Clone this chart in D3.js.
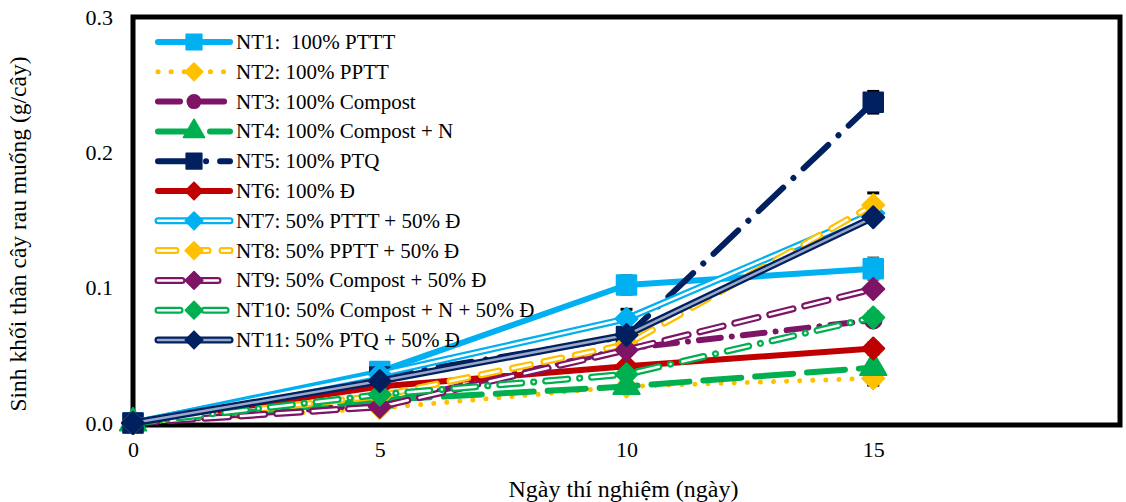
<!DOCTYPE html>
<html>
<head>
<meta charset="utf-8">
<script src="https://cdn.jsdelivr.net/npm/d3@7"></script>
<style>
body { margin: 0; background: #fff; }
text { font-family: "Liberation Serif", "Times New Roman", serif; fill: #000; }
</style>
</head>
<body>
<div id="chart"></div>
<script>
// days
var days = [0, 5, 10, 15];
var xTicks = [0, 5, 10, 15];
var yTicks = [0.0, 0.1, 0.2, 0.3];

var names = [
  "NT1:  100% PTTT",
  "NT2: 100% PPTT",
  "NT3: 100% Compost",
  "NT4: 100% Compost + N",
  "NT5: 100% PTQ",
  "NT6: 100% Đ",
  "NT7: 50% PTTT + 50% Đ",
  "NT8: 50% PPTT + 50% Đ",
  "NT9: 50% Compost + 50% Đ",
  "NT10: 50% Compost + N + 50% Đ",
  "NT11: 50% PTQ + 50% Đ"
];

// values per treatment at days 0,5,10,15
var nt1 = [0, 0.038, 0.102, 0.114];
var nt2 = [0, 0.011, 0.027, 0.033];
var nt3 = [0, 0.014, 0.055, 0.076];
var nt4 = [0, 0.017, 0.027, 0.041];
var nt5 = [0, 0.034, 0.064, 0.237];
var nt6 = [0, 0.027, 0.042, 0.055];
var nt7 = [0, 0.036, 0.077, 0.155];
var nt8 = [0, 0.020, 0.058, 0.161];
var nt9 = [0, 0.012, 0.054, 0.099];
var nt10 = [0, 0.021, 0.036, 0.078];
var nt11 = [0, 0.031, 0.065, 0.152];

// error (+/-) per treatment
var err1 = [0, 0, 0.007, 0.008];
var err2 = [0, 0, 0, 0.005];
var err3 = [0, 0, 0, 0];
var err4 = [0, 0, 0, 0];
var err5 = [0, 0, 0.004, 0.008];
var err6 = [0, 0, 0, 0.004];
var err7 = [0, 0, 0.007, 0];
var err8 = [0, 0, 0, 0.009];
var err9 = [0, 0, 0, 0];
var err10 = [0, 0, 0, 0.004];
var err11 = [0, 0, 0, 0];

var values = [nt1, nt2, nt3, nt4, nt5, nt6, nt7, nt8, nt9, nt10, nt11];
var errors = [err1, err2, err3, err4, err5, err6, err7, err8, err9, err10, err11];

// styling per series
var styles = [
  { color: "#00B0F0", width: 6, dash: null, compound: false, marker: "square", errColor: "#777" },
  { color: "#FFC000", width: 5, dash: "0.1 13", compound: false, marker: "diamond" },
  { color: "#7E1466", width: 6, dash: "22 11 0.1 11", compound: false, marker: "circle" },
  { color: "#00B050", width: 6, dash: "38 14", compound: false, marker: "triangle" },
  { color: "#002060", width: 6, dash: "34 14 0.1 14", compound: false, marker: "square" },
  { color: "#C00000", width: 6, dash: null, compound: false, marker: "diamond" },
  { color: "#00B0F0", width: 7, dash: null, compound: true, marker: "diamond" },
  { color: "#FFC000", width: 7, dash: "18 14", compound: true, marker: "diamond" },
  { color: "#7E1466", width: 7, dash: "24 12", compound: true, marker: "diamond" },
  { color: "#00B050", width: 7, dash: "22 12 0.1 12", compound: true, marker: "diamond" },
  { color: "#002060", width: 7, dash: null, compound: true, marker: "diamond", inner: "#9aa8c8" }
];

var FONT = "Liberation Serif";
var W = 1126, H = 502;
var margin = { top: 17, right: 5, bottom: 79, left: 133 };
var width = W - margin.left - margin.right,
    height = H - margin.top - margin.bottom;

var svg = d3.select("#chart").append("svg")
  .attr("width", W).attr("height", H);

var g = svg.append("g")
  .attr("transform", "translate(" + margin.left + "," + margin.top + ")");

var x = d3.scaleLinear().domain([0, 20]).range([0, width - 1]);
var y = d3.scaleLinear().domain([0, 0.3]).range([height, 0]);

// plot frame
g.append("rect")
  .attr("x", 0).attr("y", 0)
  .attr("width", x(20)).attr("height", height + 2)
  .attr("fill", "none").attr("stroke", "#000").attr("stroke-width", 5);

// axes (labels only)
var xAxis = g.append("g")
  .attr("transform", "translate(0," + height + ")")
  .call(d3.axisBottom(x).tickValues(xTicks).tickSize(0).tickPadding(18).tickFormat(d3.format("d")));
xAxis.select(".domain").remove();
xAxis.attr("font-family", FONT).attr("font-size", 22);
xAxis.selectAll("text").attr("fill", "#000");

var yAxis = g.append("g")
  .call(d3.axisLeft(y).tickValues(yTicks).tickSize(0).tickPadding(20).tickFormat(d3.format(".1f")));
yAxis.select(".domain").remove();
yAxis.attr("font-family", FONT).attr("font-size", 22);
yAxis.selectAll("text").attr("fill", "#000");

// axis titles
svg.append("text")
  .attr("x", margin.left + x(10) - 3).attr("y", 497)
  .attr("text-anchor", "middle").attr("font-size", 24).attr("font-family", FONT)
  .text("Ngày thí nghiệm (ngày)");

svg.append("text")
  .attr("transform", "translate(26," + (margin.top + height / 2 + 14) + ") rotate(-90)")
  .attr("text-anchor", "middle").attr("font-size", 23.5).attr("font-family", FONT)
  .text("Sinh khối thân cây rau muống (g/cây)");

function markerPath(type) {
  if (type === "square") return d3.symbol().type(d3.symbolSquare).size(380)();
  if (type === "circle") return d3.symbol().type(d3.symbolCircle).size(220)();
  if (type === "triangle") return d3.symbol().type(d3.symbolTriangle).size(300)();
  return "M0,-11L11,0L0,11L-11,0Z";
}

function drawLine(sel, pts, s) {
  var path = sel.append("path")
    .attr("d", pts)
    .attr("fill", "none")
    .attr("stroke", s.color)
    .attr("stroke-width", s.width)
    .attr("stroke-linecap", "round")
    .attr("stroke-linejoin", "round");
  if (s.dash) path.attr("stroke-dasharray", s.dash);
  if (s.compound) {
    var inner = sel.append("path")
      .attr("d", pts)
      .attr("fill", "none")
      .attr("stroke", s.inner || "#fff")
      .attr("stroke-width", 2.5)
      .attr("stroke-linecap", "round")
      .attr("stroke-linejoin", "round");
    if (s.dash) inner.attr("stroke-dasharray", s.dash);
  }
}

var line = d3.line()
  .x(function (d, i) { return x(days[i]); })
  .y(function (d) { return y(d); });

values.forEach(function (vals, k) {
  var s = styles[k];
  var sg = g.append("g").attr("class", "series");

  // error bars
  vals.forEach(function (v, i) {
    var e = errors[k][i];
    if (!e) return;
    var cx = x(days[i]);
    var ec = s.errColor || "#000";
    sg.append("line")
      .attr("x1", cx).attr("x2", cx)
      .attr("y1", y(v + e)).attr("y2", y(v - e))
      .attr("stroke", ec).attr("stroke-width", 2);
    [v + e, v - e].forEach(function (t) {
      sg.append("line")
        .attr("x1", cx - 6).attr("x2", cx + 6)
        .attr("y1", y(t)).attr("y2", y(t))
        .attr("stroke", ec).attr("stroke-width", 3);
    });
  });

  drawLine(sg, line(vals), s);

  sg.selectAll(".mk")
    .data(vals)
    .enter().append("path")
    .attr("class", "mk")
    .attr("d", markerPath(s.marker))
    .attr("transform", function (d, i) { return "translate(" + x(days[i]) + "," + y(d) + ")"; })
    .attr("fill", s.color)
    .attr("stroke", s.color)
    .attr("stroke-width", 2)
    .attr("stroke-linejoin", "round");
});

// legend
var legend = svg.append("g").attr("transform", "translate(158,42)");
names.forEach(function (n, k) {
  var s = styles[k];
  var ly = k * 29.8;
  var lg = legend.append("g").attr("transform", "translate(0," + ly + ")");
  drawLine(lg, "M0,0L72,0", s);
  lg.append("path")
    .attr("d", markerPath(s.marker))
    .attr("transform", "translate(36,0) scale(0.8)")
    .attr("fill", s.color).attr("stroke", s.color).attr("stroke-width", 2)
    .attr("stroke-linejoin", "round");
  lg.append("text")
    .attr("x", 78).attr("y", 7)
    .attr("font-size", 21).attr("font-family", FONT)
    .style("white-space", "pre")
    .text(n);
});
</script>
</body>
</html>
